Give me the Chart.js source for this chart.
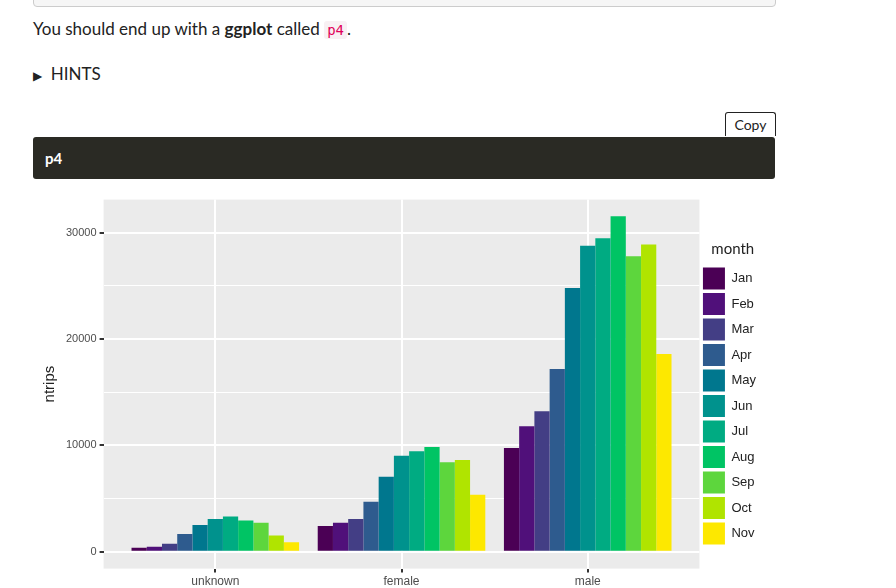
<!DOCTYPE html>
<html><head><meta charset="utf-8">
<script src="https://cdn.jsdelivr.net/npm/chart.js@4"></script>
<style>
body{margin:0;width:896px;height:588px;overflow:hidden;background:#fff;font-family:Lato,"Open Sans",sans-serif;color:#222;position:relative}
.topbox{position:absolute;left:33px;top:-10px;width:741px;height:15px;border:1px solid #ccc;border-radius:4px;background:#f6f6f6}
.p1{position:absolute;left:33px;top:18px;font-size:17px}
code{font-family:"DejaVu Sans Mono",monospace;color:#e0005a;background:#f8f0f3;font-size:14px;padding:1px 3px;border-radius:3px}
.hints{position:absolute;left:33px;top:63px;font-size:17px}
.copy{position:absolute;left:725px;top:112px;width:49px;height:23px;border:1.5px solid #222;border-bottom:none;border-radius:3px 3px 0 0;font-size:14px;text-align:center;line-height:24px}
.code{position:absolute;left:33px;top:137px;width:742px;height:42px;background:#2a2a24;border-radius:3px;color:#fff;font-weight:bold;font-size:15px;line-height:42px;text-indent:12px}
#wrap{position:absolute;left:33px;top:190px;width:843px;height:410px}
</style></head><body>
<div class="topbox"></div>
<div class="p1">You should end up with a <b>ggplot</b> called <code>p4</code>.</div>
<div class="hints"><span style="font-size:12px">&#9654;</span>&nbsp; HINTS</div>
<div class="copy">Copy</div>
<div class="code">p4</div>
<div id="wrap"><canvas id="c"></canvas></div>
<script>
const categories=["unknown","female","male"];
const months=["Jan","Feb","Mar","Apr","May","Jun","Jul","Aug","Sep","Oct","Nov"];
const colors=["#4B0055","#50107A","#433E85","#2E5B8E","#00778E","#00928D","#00AB82","#00C464","#5DD63D","#B0E400","#FDE800"];
const unknownVals=[375,470,750,1660,2500,3065,3315,2940,2720,1530,875];
const femaleVals=[2410,2720,3065,4690,7040,9010,9450,9850,8410,8630,5350];
const maleVals=[9760,11790,13200,17170,24800,28780,29470,31560,27780,28900,18580];
const yTicks=[0,10000,20000,30000];
const series=[unknownVals,femaleVals,maleVals];
const datasets=months.map((m,i)=>({label:m,backgroundColor:colors[i],borderWidth:0,
  data:categories.map((c,j)=>({x:j+1,y:series[j][i]})),categoryPercentage:0.9,barPercentage:1,grouped:true}));
const bg={id:'bg',beforeDraw(ch){const a=ch.chartArea,x=ch.ctx;x.save();x.fillStyle='#ebebeb';x.fillRect(a.left,a.top,a.right-a.left,a.bottom-a.top);x.restore();}};
new Chart(document.getElementById('c'),{type:'bar',data:{datasets},plugins:[bg],
options:{responsive:true,maintainAspectRatio:false,animation:false,
layout:{padding:{top:9,left:4,right:110,bottom:9}},
plugins:{tooltip:{enabled:false},legend:{position:'right',align:'center',
  title:{display:true,text:'month',color:'#222',font:{size:15,family:'Lato'},padding:{top:0,bottom:4}},
  labels:{boxWidth:22,boxHeight:22,padding:3.5,color:'#222',font:{size:13,family:'Liberation Sans'}}}},
scales:{
 x:{type:'linear',min:0.4,max:3.6,offset:false,
  afterBuildTicks(s){s.ticks=[{value:1},{value:2},{value:3}];},
  ticks:{callback:v=>categories[v-1],color:'#4d4d4d',font:{size:12,family:'Liberation Sans'},padding:2},
  grid:{offset:false,color:'#fff',lineWidth:2,drawTicks:true,tickLength:4,tickColor:'#333'},border:{display:false}},
 y:{min:-1595,max:33115,
  afterBuildTicks(s){const t=[];for(let v=-0;v<=33000;v+=5000)t.push({value:v});s.ticks=t;},
  ticks:{callback:v=>yTicks.includes(v)?String(v):'',color:'#4d4d4d',font:{size:11,family:'Liberation Sans'},padding:3},
  grid:{color:'#fff',lineWidth:c=>yTicks.includes(c.tick&&c.tick.value)?2:1,tickLength:4,tickColor:c=>yTicks.includes(c.tick&&c.tick.value)?'#333':'rgba(0,0,0,0)'},border:{display:false},
  title:{display:true,text:'ntrips',color:'#222',font:{size:15,family:'Liberation Sans'},padding:4}}
}}});
</script></body></html>
